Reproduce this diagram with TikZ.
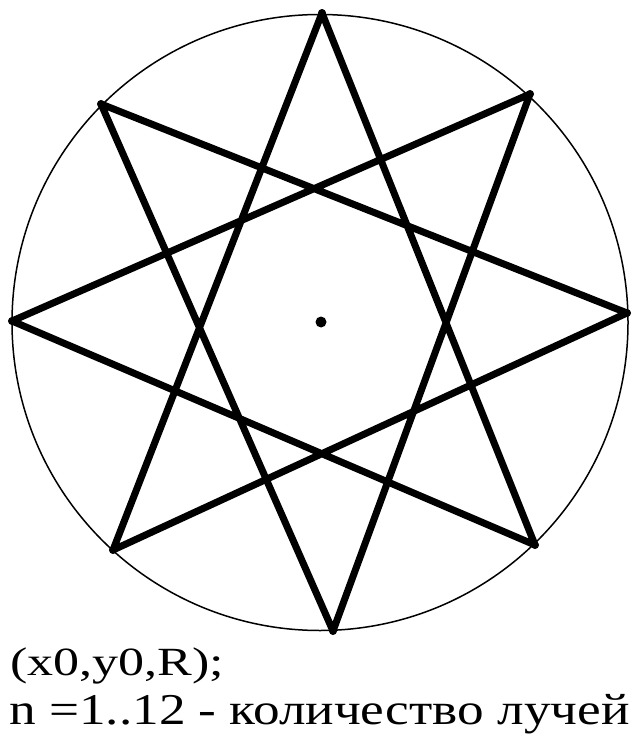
\documentclass[tikz,border=0pt]{standalone}
\usepackage{fontspec}
\setmainfont{Liberation Serif}
\usepackage{graphicx}
\usepackage{tikz}

\begin{document}
\begin{tikzpicture}[x=1pt, y=-1pt,
  rim/.style={line width=1.5pt},
  ray/.style={line width=7pt, line join=round, line cap=round},
  dot/.style={circle, fill, inner sep=0pt, minimum size=#1},
  caption/.style={anchor=base west, inner sep=0pt}]
\useasboundingbox (0,0) rectangle (631,735);
\node[dot=11pt] (o) at (321,322) {};
\draw[rim] (320,322.5) circle[radius=308];
% vertices of the star, counted anticlockwise from the right
\coordinate (v0) at (627,313);
\coordinate (v1) at (530,94);
\coordinate (v2) at (322,13);
\coordinate (v3) at (101,104);
\coordinate (v4) at (12,321);
\coordinate (v5) at (113,550);
\coordinate (v6) at (333,631);
\coordinate (v7) at (535,545);
\draw[ray] (v0) -- (v3) -- (v6) -- (v1) -- (v4) -- (v7) -- (v2) -- (v5) -- cycle;
\foreach \v in {v0,v1,v2,v3,v4,v5,v6,v7}
  \fill (\v) circle[radius=4];
\node[caption] (args) at (10,675) {\scalebox{1.3}[1]{\fontsize{40}{40}\selectfont (x0,y0,R);}};
\node[caption] (rays) at (9,724) {\scalebox{1.21}[1]{\fontsize{44}{44}\selectfont n =1..12 - количество лучей}};
\end{tikzpicture}
\end{document}
